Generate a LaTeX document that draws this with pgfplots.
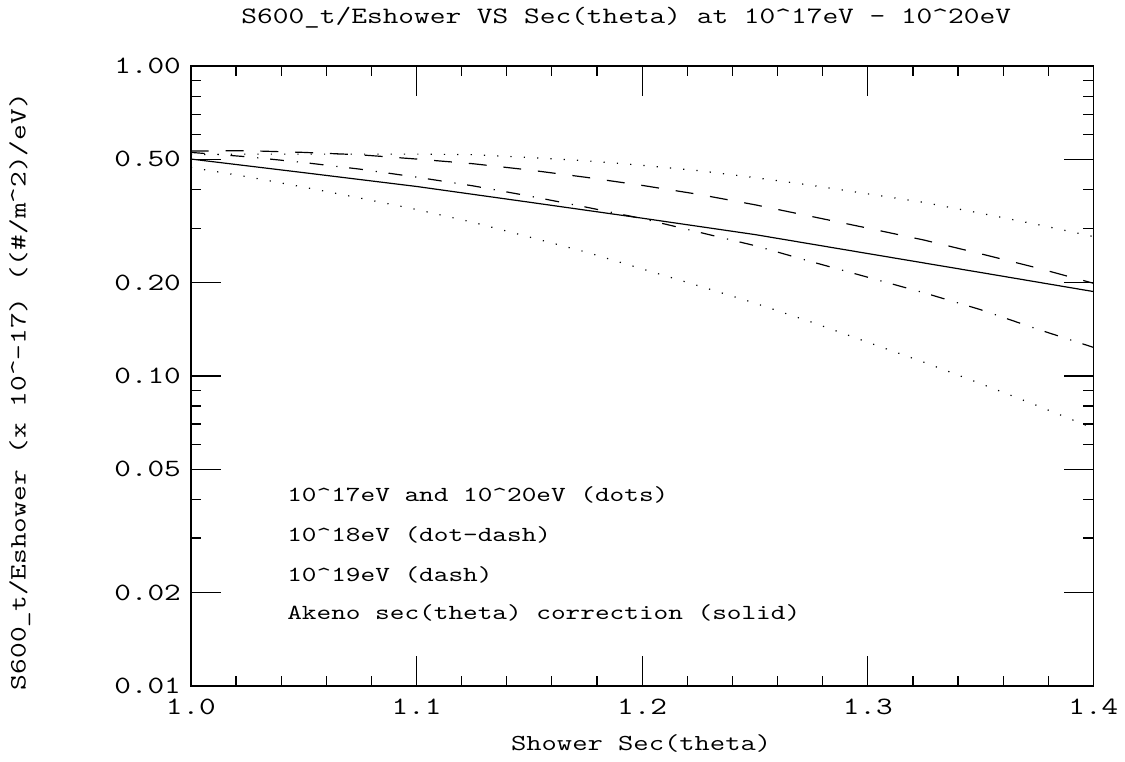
\documentclass[border=0pt]{standalone}
\usepackage{fontspec}
\setmainfont{Latin Modern Mono}[FakeStretch=1.3]
\usepackage{pgfplots}
\pgfplotsset{compat=1.18}

\begin{document}
\begin{tikzpicture}
\begin{axis}[
    name=ax, at={(0,0)}, anchor=south west,
    scale only axis, width=454pt, height=311.75pt,
    xmin=1, xmax=1.4,
    ymode=log, ymin=0.01, ymax=1,
    xtick={1,1.1,1.2,1.3,1.4},
    xticklabels={1.0,1.1,1.2,1.3,1.4},
    minor xtick={1.02,1.04,1.06,1.08,1.12,1.14,1.16,1.18,1.22,1.24,1.26,1.28,1.32,1.34,1.36,1.38},
    ytick={0.01,0.02,0.05,0.1,0.2,0.5,1},
    yticklabels={0.01,0.02,0.05,0.10,0.20,0.50,1.00},
    minor ytick={0.03,0.04,0.06,0.07,0.08,0.09,0.3,0.4,0.6,0.7,0.8,0.9},
    xtick pos=both, ytick pos=both,
    xticklabel pos=lower, yticklabel pos=left,
    tick align=inside,
    major tick length=15pt, minor tick length=5pt,
    every tick/.style={black, line width=0.6pt},
    axis line style={line width=0.7pt},
    tick label style={font=\fontsize{12.5}{14}\selectfont},
    xticklabel style={yshift=-3pt},
    yticklabel style={xshift=-1.5pt},
    /pgf/number format/assume math mode=true,
]
% Akeno correction (solid)
\addplot[black, line width=0.6pt] coordinates {
  (1.00,0.5013) (1.05,0.4531) (1.10,0.4089) (1.15,0.3638) (1.20,0.3231)
  (1.25,0.2860) (1.30,0.2484) (1.35,0.2158) (1.40,0.1873)
};
% 10^19 eV (dash)
\addplot[black, line width=0.6pt, dash pattern=on 9pt off 8.5pt] coordinates {
  (1.000,0.532) (1.025,0.5334) (1.050,0.5267) (1.075,0.5174) (1.100,0.5013)
  (1.125,0.4842) (1.150,0.4622) (1.175,0.4378) (1.200,0.4122) (1.225,0.3857)
  (1.250,0.3569) (1.275,0.3273) (1.300,0.3000) (1.325,0.2745) (1.350,0.2480)
  (1.375,0.2233) (1.400,0.1992)
};
% 10^18 eV (dot-dash)
\addplot[black, line width=0.6pt, dash pattern=on 7pt off 6.5pt on 0.6pt off 5.9pt] coordinates {
  (1.000,0.5267) (1.025,0.5098) (1.050,0.4886) (1.075,0.4650) (1.100,0.4383)
  (1.125,0.4108) (1.150,0.3809) (1.175,0.3509) (1.200,0.3221) (1.225,0.2913)
  (1.250,0.2634) (1.275,0.2338) (1.300,0.2083) (1.325,0.1855) (1.350,0.1637)
  (1.375,0.1418) (1.400,0.1237)
};
% 10^20 eV (dots, upper)
\addplot[black, line width=0.6pt, dash pattern=on 0.6pt off 6.1pt] coordinates {
  (1.000,0.518) (1.025,0.520) (1.050,0.520) (1.075,0.520) (1.100,0.520)
  (1.125,0.518) (1.150,0.507) (1.175,0.495) (1.200,0.4785) (1.225,0.4599)
  (1.250,0.4366) (1.275,0.4125) (1.300,0.3872) (1.325,0.3631) (1.350,0.3351)
  (1.375,0.3084) (1.400,0.2818)
};
% 10^17 eV (dots, lower)
\addplot[black, line width=0.6pt, dash pattern=on 0.6pt off 6.1pt] coordinates {
  (1.000,0.4709) (1.025,0.4396) (1.050,0.4069) (1.075,0.3751) (1.100,0.3447)
  (1.125,0.3134) (1.150,0.2808) (1.175,0.2513) (1.200,0.2216) (1.225,0.1955)
  (1.250,0.1718) (1.275,0.1493) (1.300,0.1285) (1.325,0.1107) (1.350,0.0945)
  (1.375,0.0803) (1.400,0.0678)
};
\end{axis}
\path ([xshift=-96pt,yshift=-38pt]ax.south west) rectangle ([xshift=12.5pt,yshift=33.25pt]ax.north east);
\node[font=\fontsize{11.8}{14}\selectfont] at ([xshift=219pt,yshift=24.25pt]ax.north west)
  {S600\_t/Eshower VS Sec(theta) at 10\textasciicircum 17eV - 10\textasciicircum 20eV};
\node[font=\fontsize{11.5}{14}\selectfont] at ([xshift=226.5pt,yshift=-29pt]ax.south west)
  {Shower Sec(theta)};
\node[font=\fontsize{11.8}{14}\selectfont, rotate=90] at ([xshift=-86pt,yshift=148pt]ax.south west)
  {S600\_t/Eshower (x 10\textasciicircum -17) ((\#/m\textasciicircum 2)/eV)};
\begin{scope}[every node/.style={anchor=west, font=\fontsize{10.8}{13}\selectfont}]
\node at ([xshift=45pt,yshift=96pt]ax.south west) {10\textasciicircum 17eV and 10\textasciicircum 20eV (dots)};
\node at ([xshift=45pt,yshift=76pt]ax.south west) {10\textasciicircum 18eV (dot-dash)};
\node at ([xshift=45pt,yshift=56pt]ax.south west) {10\textasciicircum 19eV (dash)};
\node at ([xshift=45pt,yshift=36.5pt]ax.south west) {Akeno sec(theta) correction (solid)};
\end{scope}
\end{tikzpicture}
\end{document}
